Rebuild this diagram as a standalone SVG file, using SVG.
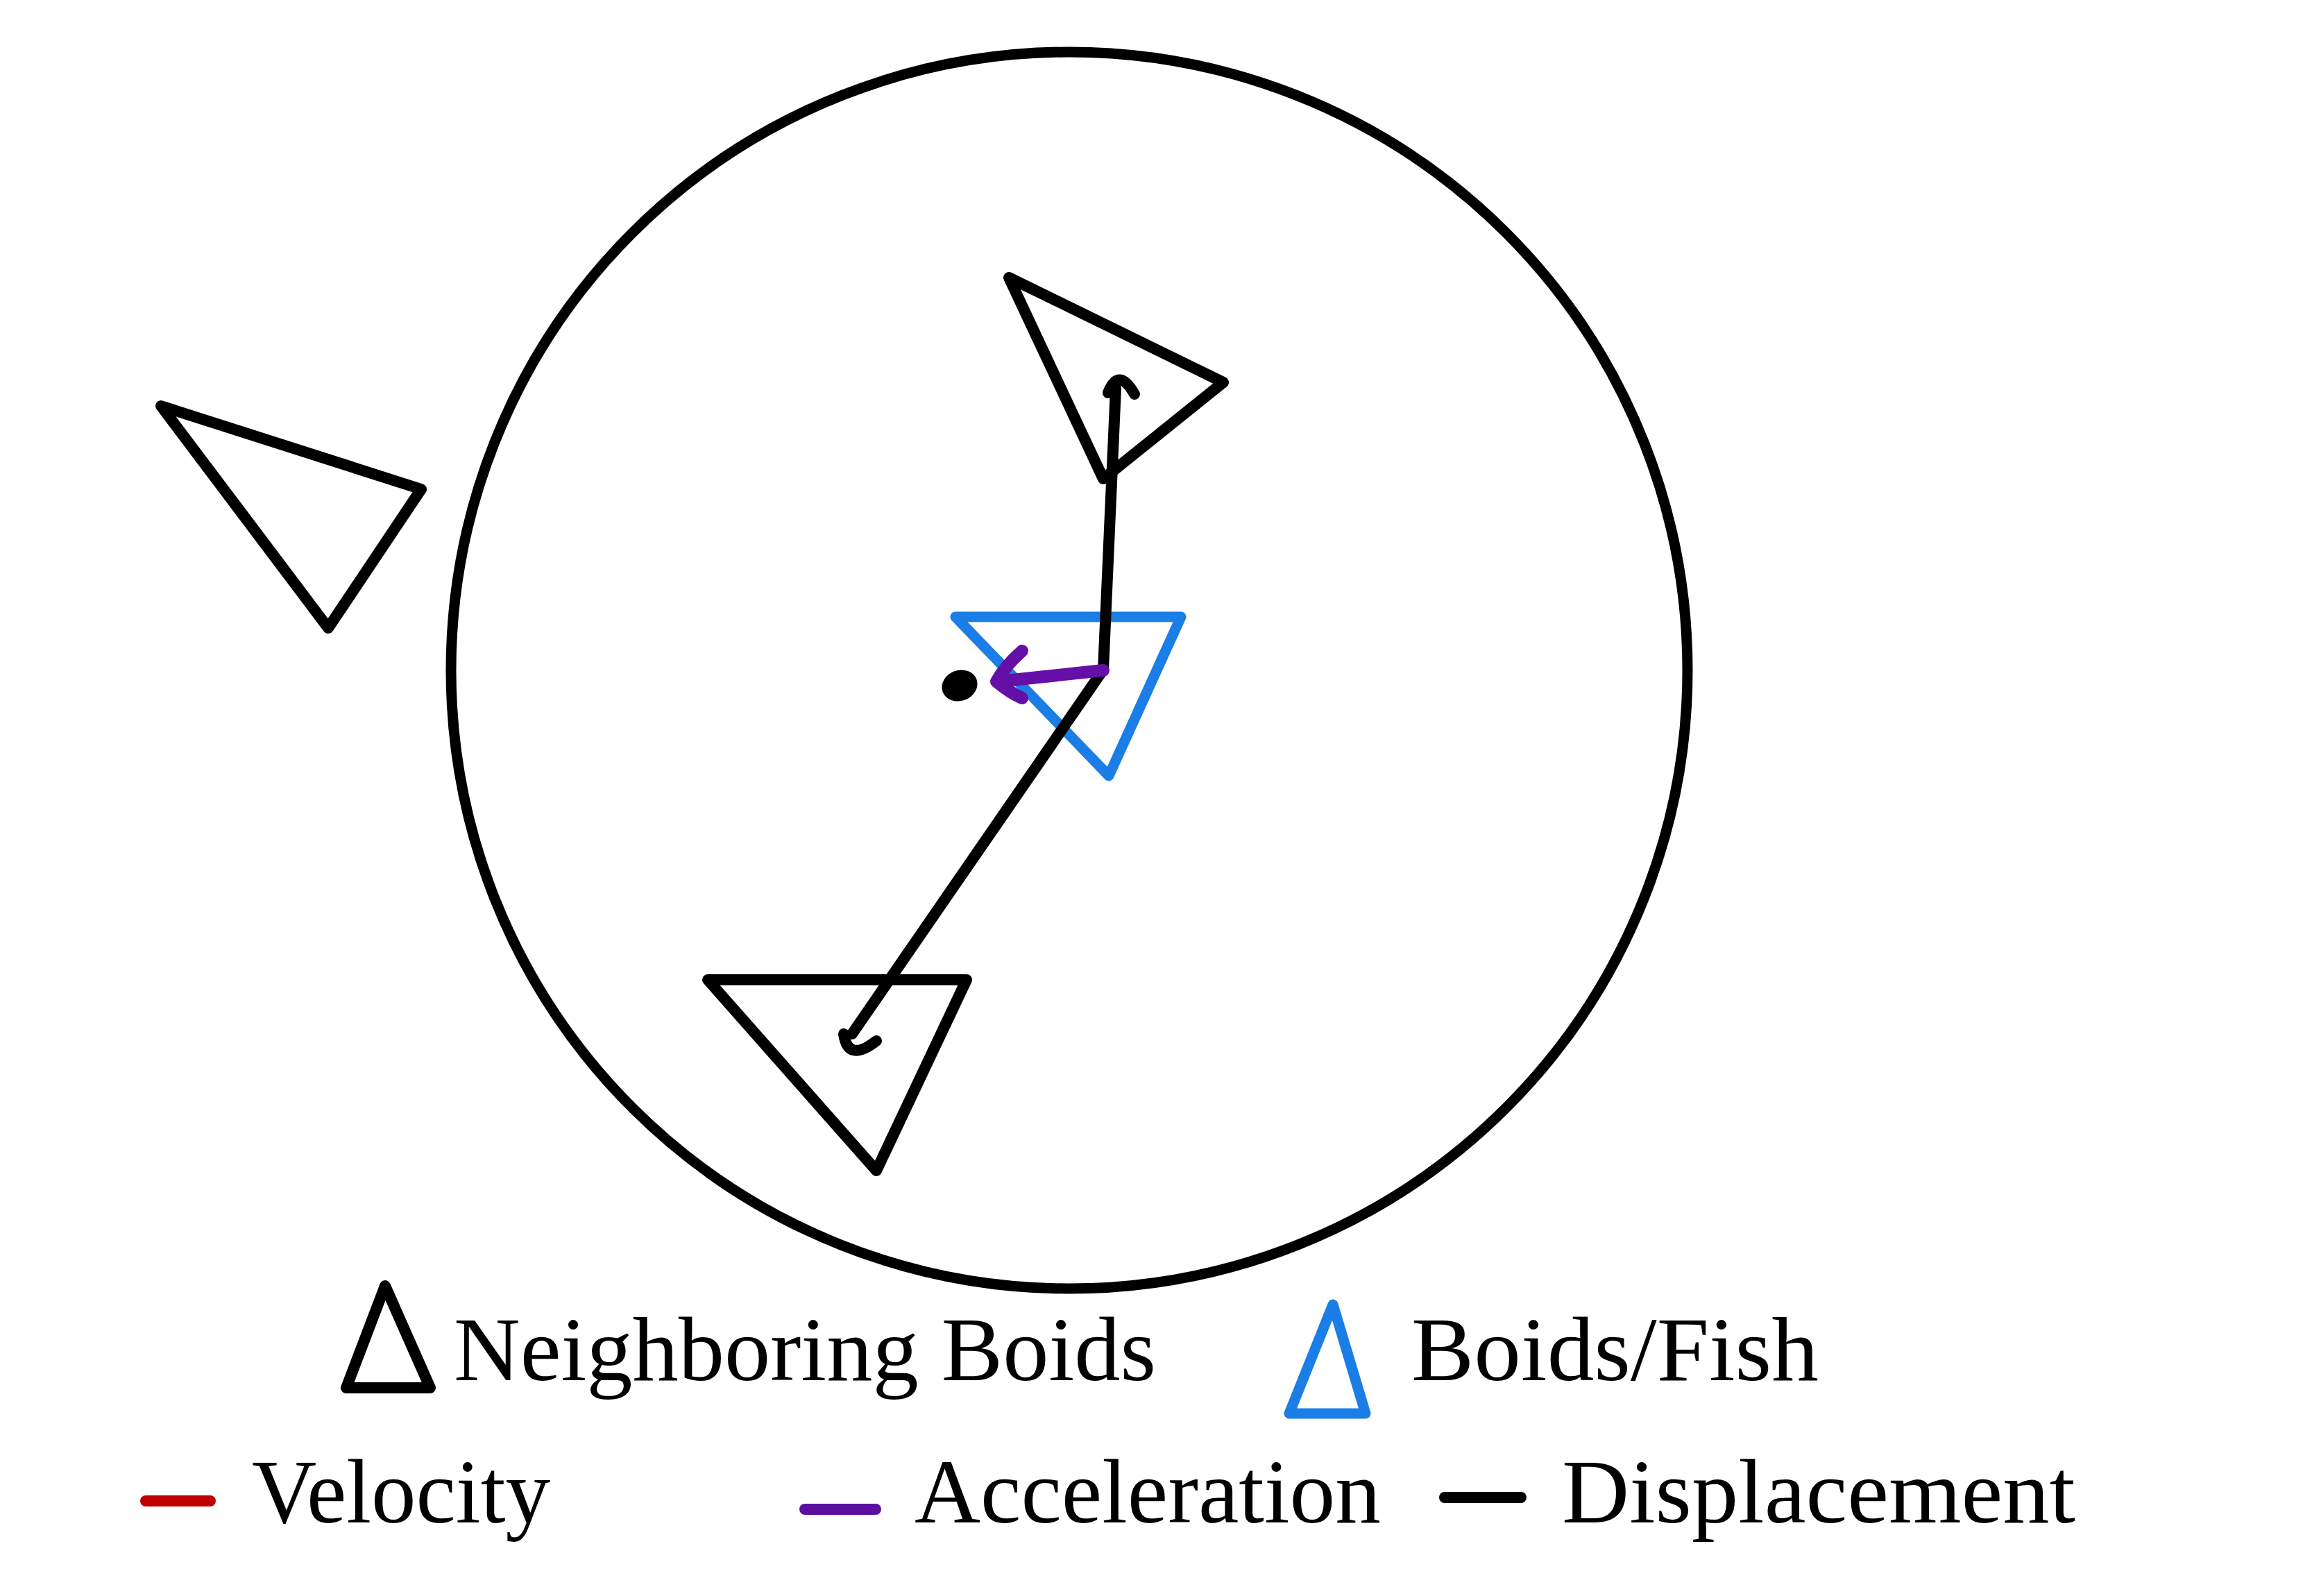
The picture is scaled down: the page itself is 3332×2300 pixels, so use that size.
<svg xmlns="http://www.w3.org/2000/svg" width="3332" height="2300" viewBox="0 0 3332 2300">
<style>
.blk{fill:none;stroke:#000;stroke-width:16;stroke-linejoin:round;stroke-linecap:round}
.blue{fill:none;stroke:#1A7EE6;stroke-width:15;stroke-linejoin:round;stroke-linecap:round}
.pur{fill:none;stroke:#6410A8;stroke-width:18;stroke-linejoin:round;stroke-linecap:round}
.lbl{font-family:"Liberation Serif","Times New Roman",serif;font-size:131px;fill:#000}
.leg{stroke-width:16;stroke-linecap:round}
</style>
<rect width="3332" height="2300" fill="#fff"/>
<g id="range">
<ellipse cx="1541" cy="966" rx="891" ry="891" fill="none" stroke="#000" stroke-width="15"/>
</g>
<g id="outside-boid">
<polygon class="blk" points="232,585 607,705 473,905"/>
</g>
<g id="top-boid">
<polygon class="blk" points="1454,400 1763,551 1590,690"/>
</g>
<g id="bottom-boid">
<polygon class="blk" points="1020,1412 1393,1412 1263,1687"/>
</g>
<g id="fish">
<polygon class="blue" points="1377,889 1702,889 1598,1118"/>
</g>
<g id="center-dot">
<ellipse cx="1383" cy="988" rx="26" ry="22" transform="rotate(-20 1383 988)" fill="#000"/>
</g>
<g id="connectors">
<polyline class="blk" points="1608,560 1590,965 1228,1490"/>
<path class="blk" d="M1597,566 Q1612,528 1635,568" stroke-width="18"/>
<path class="blk" d="M1216,1490 Q1222,1532 1263,1500" stroke-width="24"/>
<path class="pur" d="M1590,966 L1440,982"/>
<path class="pur" d="M1473,938 Q1448,960 1436,982 Q1455,998 1473,1006" stroke-width="22"/>
</g>
<g id="legend">
<polygon class="blk" points="555,1853 499,2000 620,2000" stroke-width="13"/>
<text class="lbl" x="654" y="1989" textLength="1012" lengthAdjust="spacingAndGlyphs">Neighboring Boids</text>
<polygon class="blue" points="1921,1880 1858,2037 1968,2037" stroke-width="13"/>
<text class="lbl" x="2034" y="1989" textLength="587" lengthAdjust="spacingAndGlyphs">Boids/Fish</text>
<line class="leg" x1="210" y1="2163" x2="303" y2="2163" stroke="#C00000"/>
<text class="lbl" x="363" y="2194" textLength="430" lengthAdjust="spacingAndGlyphs">Velocity</text>
<line class="leg" x1="1160" y1="2175" x2="1262" y2="2175" stroke="#5A0FA0"/>
<text class="lbl" x="1318" y="2194" textLength="672" lengthAdjust="spacingAndGlyphs">Acceleration</text>
<line class="leg" x1="2082" y1="2158" x2="2192" y2="2158" stroke="#000"/>
<text class="lbl" x="2251" y="2194" textLength="740" lengthAdjust="spacingAndGlyphs">Displacement</text>
</g>
</svg>
